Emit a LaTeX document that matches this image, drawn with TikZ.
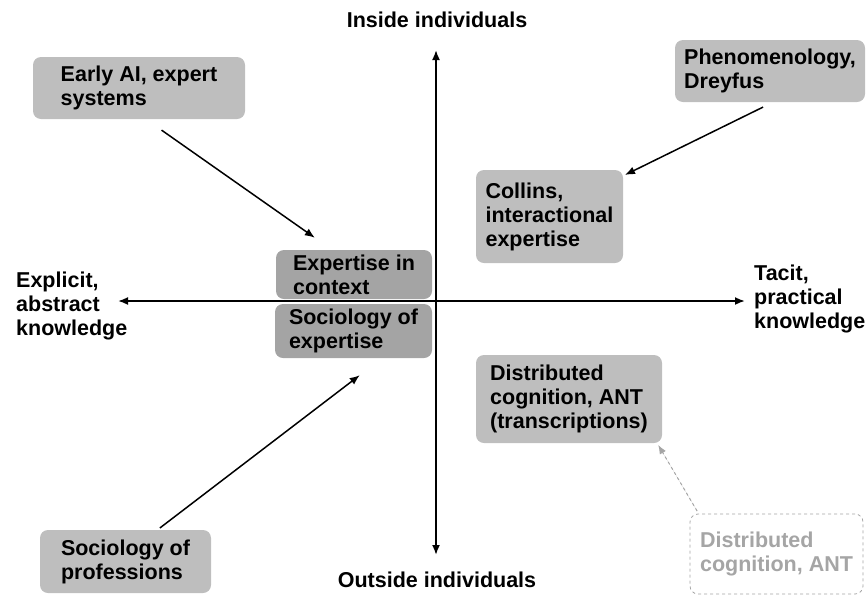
\documentclass[tikz,border=0pt]{standalone}
\usepackage{fontspec}
\setmainfont{Liberation Sans}
\usetikzlibrary{arrows.meta}

\definecolor{boxgray}{RGB}{190,190,190}
\definecolor{midgray}{RGB}{164,164,164}
\definecolor{fadegray}{RGB}{165,165,165}

\begin{document}
\begin{tikzpicture}[x=1pt, y=-1pt,
		every node/.style={font=\fontsize{21.5}{24}\selectfont\bfseries, inner sep=0pt},
		box/.style={fill=boxgray, rounded corners=8pt, align=left},
		midbox/.style={box, fill=midgray},
		ghostbox/.style={draw=fadegray, dashed, rounded corners=8pt, align=left, text=fadegray, line width=0.8pt},
		link/.style={-{Latex[length=10pt, width=8pt]}, line width=1.5pt}]
		\useasboundingbox (0,0) rectangle (867,603);
		
		% axes
		\coordinate (O) at (436,301);
		\coordinate[above of=O, node distance=251pt](TOP);
		\coordinate[below of=O, node distance=254pt](BOT);
		\coordinate[left of=O, node distance=318pt](LEFT);
		\coordinate[right of=O, node distance=309pt](RIGHT);
		
		\draw[{Latex[length=10pt, width=8pt]}-{Latex[length=10pt, width=8pt]}, line width=1.8pt] (BOT) -- (TOP);
		\draw[{Latex[length=10pt, width=8pt]}-{Latex[length=10pt, width=8pt]}, line width=1.8pt] (LEFT) -- (RIGHT);
		
		\node[anchor=base](IN) at (437,27){Inside individuals};
		\node[anchor=base](OUT) at (437,587){Outside individuals};
		\node[anchor=base west, align=left](EXP) at (16,335){Explicit,\\abstract\\knowledge};
		\node[anchor=base west, align=left](TAC) at (754,328){Tacit,\\practical\\knowledge};
		
		% boxes
		\node[box, minimum width=212pt, minimum height=62pt](EAI) at (139,88){Early AI, expert\\systems};
		\node[box, minimum width=190pt, minimum height=62pt](PHEN) at (770,71){Phenomenology,\\Dreyfus};
		\node[box, minimum width=147pt, minimum height=93pt](COL) at (549.5,216.5){Collins,\\interactional\\expertise};
		\node[midbox, minimum width=156pt, minimum height=49pt](CTX) at (354,274.5){Expertise in\\context};
		\node[midbox, minimum width=157pt, minimum height=54pt](SOE) at (353.5,331){Sociology of\\expertise};
		\node[box, minimum width=186pt, minimum height=88pt](DC) at (569,399){Distributed\\cognition, ANT\\(transcriptions)};
		\node[box, minimum width=171pt, minimum height=63pt](SOP) at (125.5,561.5){Sociology of\\professions};
		\node[ghostbox, minimum width=173pt, minimum height=80pt](DCA) at (776.5,554){Distributed\\cognition, ANT};
		
		% arrows
		\draw[link, shorten <=19pt, shorten >=21pt] ([xshift=7pt]EAI.south) -- ([xshift=-22pt]CTX.north);
		\draw[link, shorten <=11pt, shorten >=2pt] ([xshift=3pt]PHEN.south) -- ([yshift=-6pt]COL.north east);
		\draw[link, shorten <=3pt, shorten >=28pt] ([xshift=32pt]SOP.north) -- ([xshift=28.5pt]SOE.south);
		\draw[-{Latex[length=9pt, width=7pt]}, dashed, draw=fadegray, fill=fadegray, line width=1pt, shorten <=3pt, shorten >=2pt] ([xshift=9pt]DCA.north west) -- ([xshift=-5pt]DC.south east);
\end{tikzpicture}
\end{document}
